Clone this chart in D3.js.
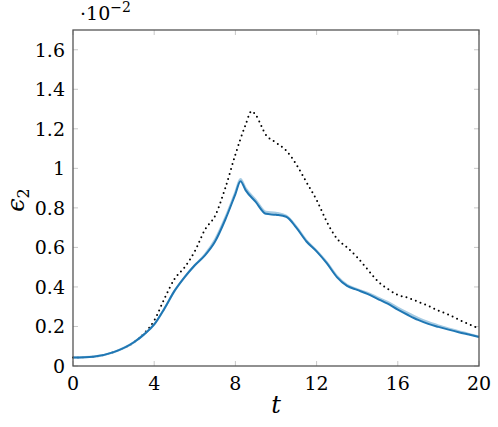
<!DOCTYPE html>
<html><head><meta charset="utf-8">
<script src="https://cdn.jsdelivr.net/npm/d3@7"></script>
<style>body{margin:0;background:#fff}</style>
</head><body><svg id="c" width="498" height="427"></svg>
<script>
const tBlue = [0,1,2,3,3.5,4,4.5,5,5.5,6,6.5,7,7.5,8,8.25,8.5,9,9.5,10,10.5,11,11.5,12,12.5,13,13.5,14,14.5,15,15.5,16,16.5,17,17.5,18,18.5,19,19.5,20];
const blueVals = [0.043,0.047,0.07,0.12,0.16,0.21,0.29,0.38,0.45,0.51,0.56,0.63,0.74,0.87,0.935,0.89,0.83,0.77,0.765,0.755,0.70,0.63,0.58,0.52,0.45,0.405,0.385,0.365,0.34,0.315,0.285,0.258,0.233,0.213,0.198,0.184,0.171,0.159,0.147];
const lightVals = [0.043,0.047,0.07,0.12,0.16,0.21,0.29,0.38,0.45,0.51,0.565,0.64,0.75,0.88,0.945,0.90,0.84,0.78,0.775,0.76,0.705,0.635,0.583,0.525,0.455,0.41,0.388,0.37,0.347,0.324,0.295,0.268,0.243,0.222,0.205,0.19,0.176,0.162,0.149];
const tDot = [0,1,2,3,3.5,4,4.5,5,5.5,6,6.5,7,7.5,8,8.5,8.8,9,9.5,10,10.5,11,11.5,12,12.5,13,13.5,14,14.5,15,15.5,16,16.5,17,17.5,18,18.5,19,19.5,20];
const dotVals = [0.043,0.047,0.07,0.12,0.165,0.23,0.34,0.44,0.50,0.58,0.69,0.76,0.90,1.07,1.22,1.29,1.27,1.17,1.13,1.09,1.02,0.93,0.84,0.73,0.645,0.60,0.55,0.49,0.43,0.39,0.36,0.345,0.325,0.305,0.28,0.26,0.235,0.212,0.19];
const xTicks = [0,4,8,12,16,20];
const yTicks = [0,0.2,0.4,0.6,0.8,1,1.2,1.4,1.6];

const FF = "'DejaVu Serif', serif";
const svg = d3.select("#c");
const x = d3.scaleLinear().domain([0,20]).range([73,479]);
const y = d3.scaleLinear().domain([0,1.7]).range([366,30]);
const tickC = "#c8c8c8";

const g = svg.append("g");
xTicks.forEach(v=>{
  g.append("line").attr("x1",x(v)).attr("x2",x(v)).attr("y1",y(0)).attr("y2",y(0)-5).attr("stroke",tickC).attr("stroke-width",1);
  g.append("line").attr("x1",x(v)).attr("x2",x(v)).attr("y1",y(1.7)).attr("y2",y(1.7)+5).attr("stroke",tickC).attr("stroke-width",1);
  svg.append("text").style("font-family",FF).attr("x",x(v)).attr("y",390).attr("text-anchor","middle").attr("font-size",19).text(d3.format("d")(v));
});
yTicks.forEach(v=>{
  g.append("line").attr("y1",y(v)).attr("y2",y(v)).attr("x1",x(0)).attr("x2",x(0)+5).attr("stroke",tickC).attr("stroke-width",1);
  g.append("line").attr("y1",y(v)).attr("y2",y(v)).attr("x1",x(20)).attr("x2",x(20)-5).attr("stroke",tickC).attr("stroke-width",1);
  svg.append("text").style("font-family",FF).attr("x",65).attr("y",y(v)+7).attr("text-anchor","end").attr("font-size",19).text(v===0?"0":(v===1?"1":d3.format(".1f")(v)));
});

const line = d3.line().x(d=>x(d[0])).y(d=>y(d[1])).curve(d3.curveMonotoneX);
svg.append("path").datum(tDot.map((t,i)=>[t,dotVals[i]])).attr("d",line).attr("fill","none")
  .attr("stroke","#000").attr("stroke-width",2).attr("stroke-linecap","round").attr("stroke-dasharray","0 5");
svg.append("path").datum(tBlue.map((t,i)=>[t,lightVals[i]])).attr("d",line).attr("fill","none")
  .attr("stroke","#a6cbe3").attr("stroke-width",2.2);
svg.append("path").datum(tBlue.map((t,i)=>[t,blueVals[i]])).attr("d",line).attr("fill","none")
  .attr("stroke","#1f77b4").attr("stroke-width",2);

svg.append("rect").attr("x",x(0)).attr("y",y(1.7)).attr("width",x(20)-x(0)).attr("height",y(0)-y(1.7))
  .attr("fill","none").attr("stroke","#555").attr("stroke-width",1.3);

const ex = svg.append("text").style("font-family",FF).attr("x",80).attr("y",20).attr("font-size",19);
ex.append("tspan").text("·10");
ex.append("tspan").attr("dy",-8).attr("font-size",14).text("−2");

svg.append("text").style("font-family",FF).attr("x",276).attr("y",413).attr("text-anchor","middle").attr("font-size",24).attr("font-style","italic").text("t");
const yl = svg.append("text").style("font-family",FF).attr("transform","translate(24,200) rotate(-90)").attr("text-anchor","middle").attr("font-size",24);
yl.append("tspan").attr("font-style","italic").text("ϵ");
yl.append("tspan").attr("dy",5).attr("font-size",16).text("2");
</script></body></html>
